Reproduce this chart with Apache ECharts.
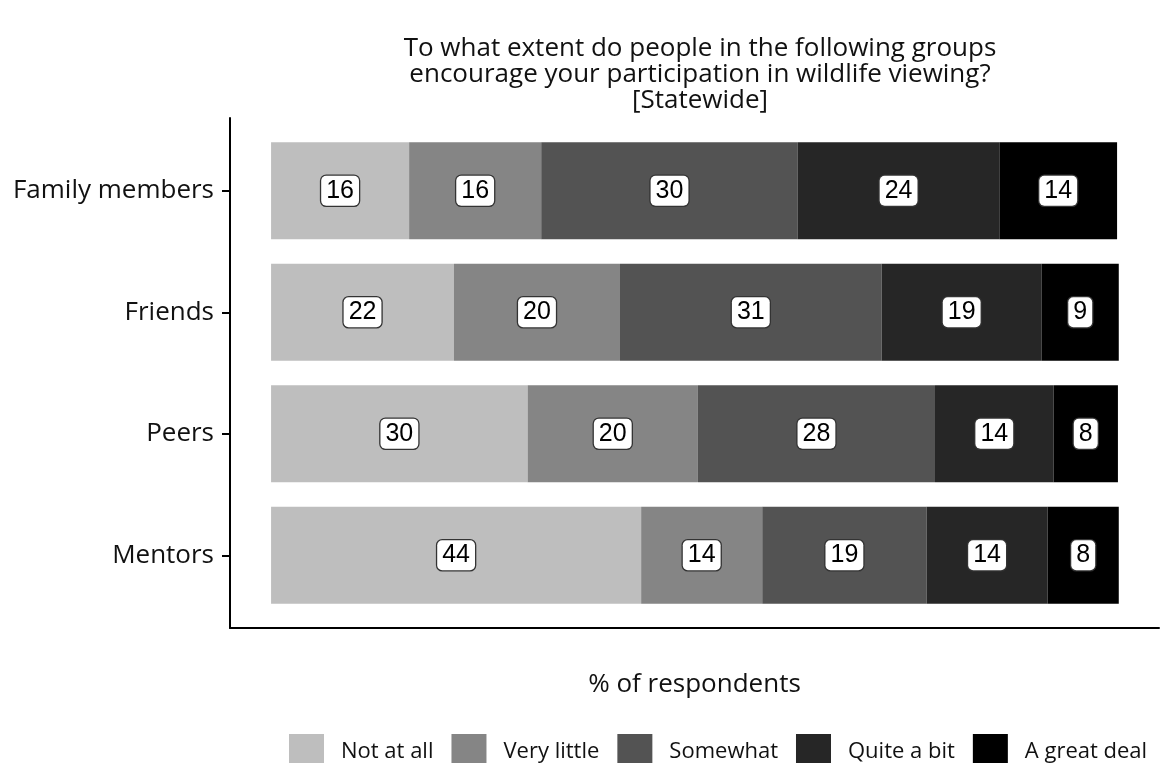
<!DOCTYPE html>
<html>
<head>
<meta charset="utf-8">
<script src="https://cdn.jsdelivr.net/npm/echarts@6/dist/echarts.min.js"></script>
<style>
  html, body { margin: 0; padding: 0; background: #fff; }
  #chart { width: 1165px; height: 763px; }
</style>
</head>
<body>
<div id="chart"></div>
<script>
// groups, top to bottom
const groups = ['Family members', 'Friends', 'Peers', 'Mentors'];
const levels = ['Not at all', 'Very little', 'Somewhat', 'Quite a bit', 'A great deal'];
// % of respondents per level (same order as groups)
const notAtAll = [16.3, 21.6, 30.3, 43.7];
const veryLittle = [15.6, 19.6, 20.1, 14.3];
const somewhat = [30.3, 30.9, 28.0, 19.4];
const quiteABit = [23.8, 18.9, 14.0, 14.3];
const greatDeal = [13.9, 9.1, 7.6, 8.4];
const colors = ['#bebebe', '#858585', '#535353', '#262626', '#000000'];

const font = 'Open Sans';
const chart = echarts.init(document.getElementById('chart'), null, { renderer: 'canvas' });

const seriesData = [notAtAll, veryLittle, somewhat, quiteABit, greatDeal];

var option = {
  backgroundColor: '#fff',
  animation: false,
  color: colors,
  title: {
    text: 'To what extent do people in the following groups\nencourage your participation in wildlife viewing?\n[Statewide]',
    left: 695,
    top: 31,
    textAlign: 'center',
    textStyle: {
      fontFamily: font,
      fontSize: 26,
      fontWeight: 'normal',
      color: '#111',
      lineHeight: 26
    }
  },
  legend: {
    data: levels,
    left: 284,
    top: 729,
    icon: 'rect',
    itemWidth: 35,
    itemHeight: 35,
    itemGap: 18,
    textStyle: {
      fontFamily: font,
      fontSize: 22,
      color: '#111',
      padding: [0, 0, 0, 12]
    }
  },
  grid: [
    // bars
    { left: 230, right: 6, top: 130, bottom: 147 },
    // axis frame (lines + x title)
    { left: 230, right: 6, top: 118, bottom: 135 }
  ],
  xAxis: [
    {
      gridIndex: 0,
      type: 'value',
      min: -4.85,
      max: 104.85,
      show: false
    },
    {
      gridIndex: 1,
      type: 'value',
      min: 0,
      max: 1,
      position: 'bottom',
      name: '% of respondents',
      nameLocation: 'middle',
      nameGap: 44,
      nameTextStyle: { fontFamily: font, fontSize: 26, color: '#111' },
      axisLine: { show: true, onZero: false, lineStyle: { color: '#000', width: 2 } },
      axisTick: { show: false },
      axisLabel: { show: false },
      splitLine: { show: false }
    }
  ],
  yAxis: [
    {
      gridIndex: 0,
      type: 'category',
      data: groups,
      inverse: true,
      position: 'left',
      axisLine: { show: false, onZero: false },
      axisTick: { show: true, length: 8, alignWithLabel: true, lineStyle: { color: '#000', width: 2 } },
      axisLabel: { fontFamily: font, fontSize: 26, color: '#111', margin: 16 },
      splitLine: { show: false }
    },
    {
      gridIndex: 1,
      type: 'value',
      min: 0,
      max: 1,
      position: 'left',
      axisLine: { show: true, onZero: false, lineStyle: { color: '#000', width: 2 } },
      axisTick: { show: false },
      axisLabel: { show: false },
      splitLine: { show: false }
    }
  ],
  series: levels.map((name, i) => ({
    name: name,
    type: 'bar',
    stack: 'total',
    xAxisIndex: 0,
    yAxisIndex: 0,
    barWidth: '80%',
    data: seriesData[i],
    itemStyle: { color: colors[i] },
    label: {
      show: true,
      position: 'inside',
      formatter: p => Math.round(p.value),
      fontFamily: 'Liberation Sans',
      fontSize: 25,
      lineHeight: 26,
      color: '#000',
      backgroundColor: '#fff',
      borderColor: '#333',
      borderWidth: 1.3,
      borderRadius: 5,
      padding: [3, 5, 1, 5]
    }
  }))
};

chart.setOption(option);
</script>
</body>
</html>
